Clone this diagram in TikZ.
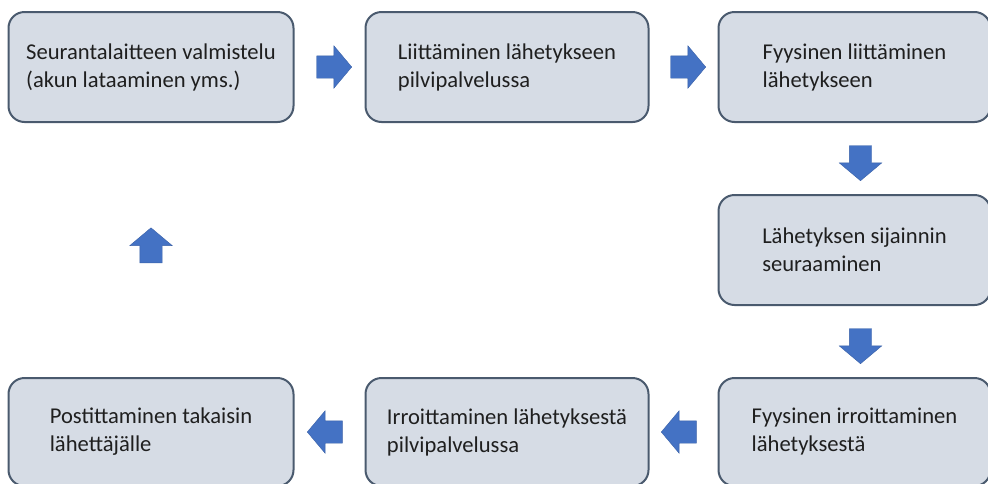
\documentclass[tikz,border=0pt]{standalone}
\usepackage{fontspec}
\setmainfont{Carlito}
\usepackage{tikz}
\usetikzlibrary{positioning,shapes.arrows,calc}
\definecolor{boxfill}{HTML}{D6DCE5}
\definecolor{boxline}{HTML}{4A5A6E}
\definecolor{arrowblue}{HTML}{4472C4}
\definecolor{textgray}{HTML}{1F1F1F}
\tikzset{
  font={\fontsize{22.6pt}{28pt}\selectfont}}
\tikzset{
  stepbox/.style={draw=boxline, fill=boxfill, line width=2pt, rounded corners=16pt,
    minimum width=283pt, minimum height=110pt, align=left, text=textgray},
  blockarrow/.style={single arrow, fill=arrowblue, draw=arrowblue!85!black, line width=0.4pt,
    minimum height=35pt, inner sep=11pt, single arrow head extend=10pt,
    single arrow tip angle=100}}

\begin{document}
\begin{tikzpicture}[x=1pt,y=-1pt]
%% frame of the picture
\useasboundingbox (0,0) rectangle (988,483);
%% top row
    \node[stepbox, minimum width=285pt] (prep) at (151,67) {Seurantalaitteen valmistelu\\(akun lataaminen yms.)};
    \node[stepbox, right=70pt of prep] (cloudlink) {Liittäminen lähetykseen\\pilvipalvelussa};
    \node[stepbox, minimum width=272pt, right=68pt of cloudlink] (physlink) {Fyysinen liittäminen\\lähetykseen};
%% right column
    \node[stepbox, minimum width=272pt, below=71pt of physlink] (track) {Lähetyksen sijainnin\\seuraaminen};
%% bottom row
    \node[stepbox, minimum width=272pt, minimum height=108pt, below=71pt of track] (physdetach) {Fyysinen irroittaminen\\lähetyksestä};
    \node[stepbox, minimum height=108pt, left=68pt of physdetach] (clouddetach) {Irroittaminen lähetyksestä\\pilvipalvelussa};
    \node[stepbox, minimum width=285pt, minimum height=108pt, left=70pt of clouddetach] (postback) {Postittaminen takaisin\\lähettäjälle};
%% block arrows between the steps
    \node[blockarrow] (a1) at ($(prep.east)!0.5!(cloudlink.west)$) {};
    \node[blockarrow] (a2) at ($(cloudlink.east)!0.5!(physlink.west)$) {};
    \node[blockarrow, shape border rotate=270, xshift=6pt] (a3) at ($(physlink.south)!0.5!(track.north)$) {};
    \node[blockarrow, shape border rotate=270, xshift=6pt] (a4) at ($(track.south)!0.5!(physdetach.north)$) {};
    \node[blockarrow, shape border rotate=180] (a5) at ($(physdetach.west)!0.5!(clouddetach.east)$) {};
    \node[blockarrow, shape border rotate=180] (a6) at ($(clouddetach.west)!0.5!(postback.east)$) {};
    \node[blockarrow, shape border rotate=90] (a7) at ($(postback.north)!0.5!(prep.south)$) {};
\end{tikzpicture}
\end{document}
